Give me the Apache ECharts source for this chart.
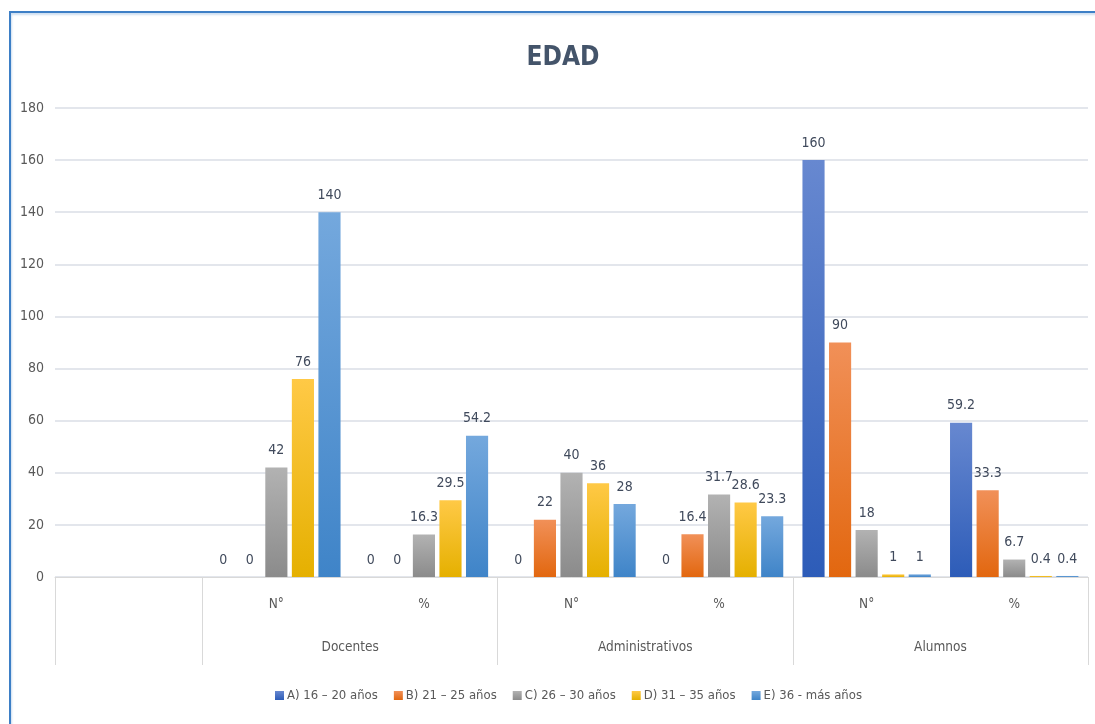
<!DOCTYPE html>
<html>
<head>
<meta charset="utf-8">
<script src="https://cdn.jsdelivr.net/npm/echarts@6/dist/echarts.min.js"></script>
<style>
html,body{margin:0;padding:0;background:#fff;}
#chart{width:1095px;height:724px;position:absolute;left:0;top:0;}
#frame{position:absolute;left:9px;top:11px;width:1100px;height:720px;border-left:2px solid #3D7FC6;border-top:2px solid #3D7FC6;pointer-events:none;box-shadow:inset 1px 2px 2px rgba(61,127,198,0.25);}
</style>
</head>
<body>
<div id="chart"></div>
<div id="frame"></div>
<script>
// ---- data ----
const categories = ['', 'N°', '%', 'N°', '%', 'N°', '%'];
const groupNames = ['Docentes', 'Administrativos', 'Alumnos'];
const groupCenters = [2, 4, 6];
const groupBounds = [0, 1, 3, 5, 7];
const seriesNames = ['A) 16 – 20 años', 'B) 21 – 25 años', 'C) 26 – 30 años', 'D) 31 – 35 años', 'E) 36 - más años'];
const serA = [null, 0, 0, 0, 0, 160, 59.2];
const serB = [null, 0, 0, 22, 16.4, 90, 33.3];
const serC = [null, 42, 16.3, 40, 31.7, 18, 6.7];
const serD = [null, 76, 29.5, 36, 28.6, 1, 0.4];
const serE = [null, 140, 54.2, 28, 23.3, 1, 0.4];
const yTicks = [0, 20, 40, 60, 80, 100, 120, 140, 160, 180];

const FONT = "'Liberation Sans Narrow', 'DejaVu Sans Condensed', sans-serif";
const TXT = '#595959';
const gradients = [
  ['#6788D0', '#2D5CB8'],
  ['#F19058', '#E2670F'],
  ['#B2B2B2', '#8B8B8B'],
  ['#FFC946', '#E5B000'],
  ['#74A8DD', '#3F84C8']
];
function grad(c) {
  return {type: 'linear', x: 0, y: 0, x2: 0, y2: 1,
    colorStops: [{offset: 0, color: c[0]}, {offset: 1, color: c[1]}]};
}
const allData = [serA, serB, serC, serD, serE];

const chart = echarts.init(document.getElementById('chart'), null, {renderer: 'canvas'});
const option = {
  animation: false,
  backgroundColor: 'transparent',
  textStyle: {fontFamily: FONT},
  title: {
    text: 'EDAD', left: 558, top: 40, textAlign: 'center',
    textStyle: {fontFamily: FONT, fontSize: 26, fontWeight: 'bold', color: '#44546A'}
  },
  legend: {
    left: 270, top: 684,
    itemWidth: 9, itemHeight: 9, itemGap: 16,
    icon: 'rect',
    textStyle: {fontFamily: FONT, fontSize: 13, color: TXT, padding: [0, 0, 0, -2]},
    data: seriesNames
  },
  grid: {left: 55, right: 7, top: 108, bottom: 147, containLabel: false},
  xAxis: [
    {
      type: 'category', data: categories, position: 'bottom',
      axisLine: {show: true, lineStyle: {color: '#D9D9D9', width: 1}},
      axisTick: {show: false},
      axisLabel: {margin: 20, fontFamily: FONT, fontSize: 13.5, color: TXT},
      splitLine: {show: false}
    },
    {
      type: 'value', min: 0, max: 7, position: 'bottom', gridIndex: 0,
      axisLine: {show: false},
      splitLine: {show: false},
      axisTick: {show: true, customValues: groupBounds, length: 88, lineStyle: {color: '#D9D9D9', width: 1}},
      axisLabel: {
        show: true, customValues: groupCenters, margin: 63,
        fontFamily: FONT, fontSize: 13.5, color: TXT,
        formatter: function (v) {
          const i = groupCenters.indexOf(v);
          return i >= 0 ? groupNames[i] : '';
        }
      }
    }
  ],
  yAxis: {
    type: 'value', min: 0, max: 180, interval: 20,
    axisLine: {show: false}, axisTick: {show: false},
    axisLabel: {margin: 11, fontFamily: FONT, fontSize: 14, color: TXT,
      formatter: function (v) { return yTicks.indexOf(v) >= 0 ? String(v) : ''; }},
    splitLine: {lineStyle: {color: '#E3E6EC', width: 2}}
  },
  series: seriesNames.map(function (name, i) {
    return {
      name: name, type: 'bar', xAxisIndex: 0,
      data: allData[i],
      barGap: '20%', barCategoryGap: '13%',
      itemStyle: {color: grad(gradients[i])},
      label: {
        show: true, position: 'top', distance: 10,
        fontFamily: FONT, fontSize: 14, color: '#404A5C',
        formatter: function (p) { return p.value == null ? '' : String(p.value); }
      }
    };
  })
};
chart.setOption(option);
</script>
</body>
</html>
